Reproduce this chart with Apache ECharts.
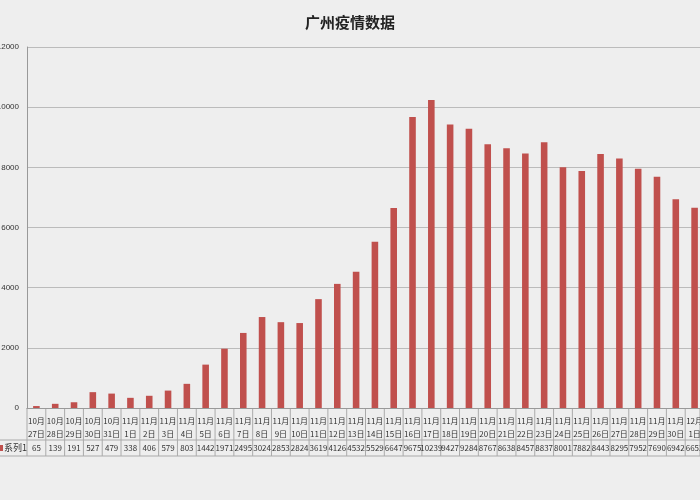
<!DOCTYPE html><html><head><meta charset="utf-8"><script src="https://cdn.jsdelivr.net/npm/echarts@6/dist/echarts.min.js"></script></head><body style="margin:0;background:#eeeeee"><div id="c" style="width:700px;height:500px"></div><script>
const categories=["10月27日","10月28日","10月29日","10月30日","10月31日","11月1日","11月2日","11月3日","11月4日","11月5日","11月6日","11月7日","11月8日","11月9日","11月10日","11月11日","11月12日","11月13日","11月14日","11月15日","11月16日","11月17日","11月18日","11月19日","11月20日","11月21日","11月22日","11月23日","11月24日","11月25日","11月26日","11月27日","11月28日","11月29日","11月30日","12月1日"];
const values=[65,139,191,527,479,338,406,579,803,1442,1971,2495,3024,2853,2824,3619,4126,4532,5529,6647,9675,10239,9427,9284,8767,8638,8457,8837,8001,7882,8443,8295,7952,7690,6942,6653];
const seriesName="系列1";
const chart=echarts.init(document.getElementById('c'));
const F='"Noto Sans CJK SC",sans-serif';
chart.setOption({
 backgroundColor:'#eeeeee',
 title:{text:'广州疫情数据',left:'center',top:10,textStyle:{fontSize:15,fontWeight:'bold',color:'#222',fontFamily:F}},
 grid:{left:27,right:-4,top:47,bottom:92,containLabel:false,outerBoundsMode:'none'},
 xAxis:{type:'category',data:categories,axisTick:{show:false},axisLine:{lineStyle:{color:'#999'}},
  axisLabel:{interval:0,margin:6,fontSize:8,color:'#333',fontFamily:F,lineHeight:13,
   formatter:(v,i)=>{const m=v.indexOf('月');return v.slice(0,m+1)+'\n'+v.slice(m+1)+'\n{v|'+values[i]+'}';},
   rich:{v:{fontSize:8,lineHeight:16,color:'#333'}}}},
 yAxis:{type:'value',min:0,max:12000,interval:2000,axisLine:{show:true,lineStyle:{color:'#999'}},
  splitLine:{lineStyle:{color:'#bbb'}},axisLabel:{fontSize:8,color:'#333',margin:8,formatter:v=>String(v)}},
 series:[{name:seriesName,type:'bar',data:values,barWidth:'35%',itemStyle:{color:'#c0504d'},animation:false}],
 animation:false
});
const g=[];
const y0=408,y1=440,y2=456;
const step=chart.convertToPixel({xAxisIndex:0},categories[1])-chart.convertToPixel({xAxisIndex:0},categories[0]);
for(let i=0;i<=categories.length;i++){
 const x=i<categories.length?chart.convertToPixel({xAxisIndex:0},categories[i])-step/2:700;
 g.push({type:'line',shape:{x1:x,y1:y0,x2:x,y2:y2},style:{stroke:'#aaa',lineWidth:1}});
}
g.push({type:'line',shape:{x1:0,y1:y1,x2:700,y2:y1},style:{stroke:'#aaa'}});
g.push({type:'line',shape:{x1:0,y1:y2,x2:700,y2:y2},style:{stroke:'#aaa'}});
g.push({type:'rect',shape:{x:0,y:445,width:3,height:6},style:{fill:'#c0504d'}});
g.push({type:'text',x:4,y:448,style:{text:seriesName,fontSize:9,fill:'#333',verticalAlign:'middle',fontFamily:F}});
chart.setOption({graphic:g});
</script></body></html>
